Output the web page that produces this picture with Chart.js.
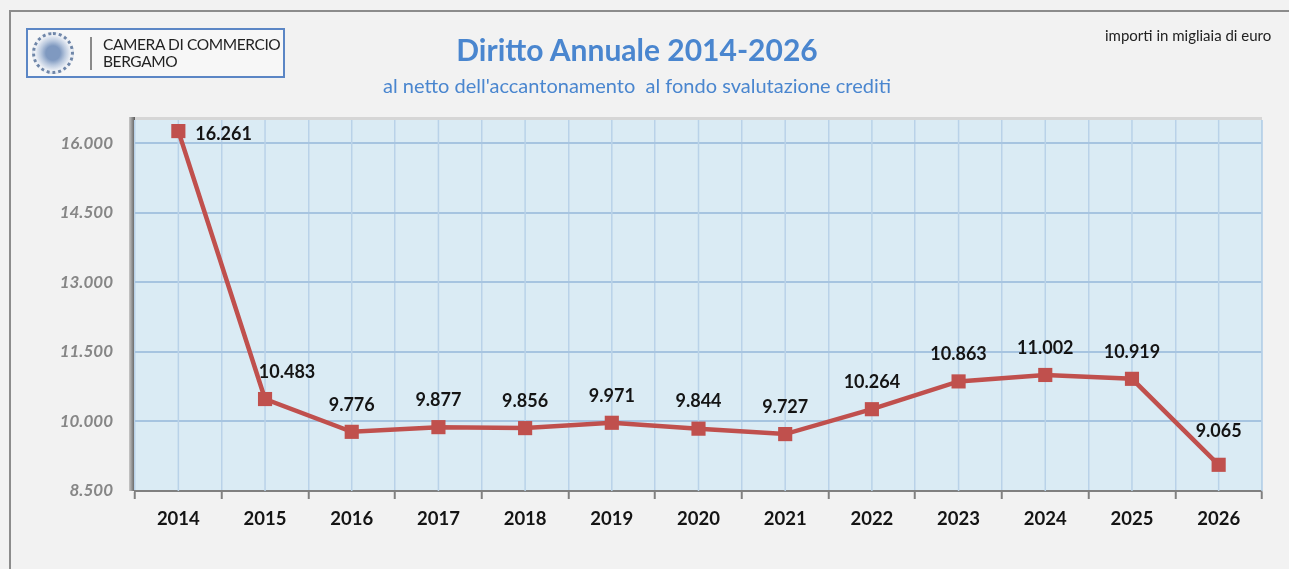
<!DOCTYPE html>
<html>
<head>
<meta charset="utf-8">
<script src="https://cdn.jsdelivr.net/npm/chart.js@4/dist/chart.umd.min.js"></script>
<style>
  html, body { margin: 0; padding: 0; background: #f2f2f2; }
  #wrap { position: relative; width: 1289px; height: 569px; overflow: hidden; font-family: Lato, "Open Sans", sans-serif; }
  #frame { position: absolute; left: 9px; top: 10px; width: 1300px; height: 600px; border-left: 2px solid #8c8c8c; border-top: 2px solid #8c8c8c; box-sizing: border-box; }
  #logo { position: absolute; left: 26px; top: 28px; width: 259px; height: 50px; border: 2px solid #5b86c5; box-sizing: border-box; background: #f7f7f7; }
  #seal { position: absolute; left: 4px; top: 2px; width: 42px; height: 42px; border-radius: 50%; border: 3px dotted #6f86a8; box-sizing: border-box; background: radial-gradient(circle, #7f99c0 0 28%, #b9c8de 48%, #eef1f6 70%); }
  #divider { position: absolute; left: 62px; top: 7px; width: 2px; height: 33px; background: #8a8a8a; }
  #logotext { position: absolute; left: 75px; top: 6px; font-size: 15.5px; line-height: 17px; color: #222; white-space: nowrap; letter-spacing: -0.4px; }
  #title { position: absolute; left: 0; width: 1274px; top: 31px; text-align: center; font-size: 30px; font-weight: bold; color: #4a86cf; }
  #subtitle { position: absolute; left: 0; width: 1274px; top: 73px; text-align: center; font-size: 20px; color: #4a86cf; }
  #unit { position: absolute; left: 1105px; top: 26px; font-size: 15px; color: #222; white-space: nowrap; }
  #chart { position: absolute; left: 0; top: 0; }
</style>
</head>
<body>
<div id="wrap">
  <div id="frame"></div>
  <canvas id="chart" width="1289" height="569"></canvas>
  <div id="logo">
    <div id="seal"></div>
    <div id="divider"></div>
    <div id="logotext">CAMERA DI COMMERCIO<br>BERGAMO</div>
  </div>
  <div id="title">Diritto Annuale 2014-2026</div>
  <div id="subtitle">al netto dell'accantonamento&nbsp; al fondo svalutazione crediti</div>
  <div id="unit">importi in migliaia di euro</div>
</div>
<script>
// dati (migliaia di euro)
const years = ["2014", "2015", "2016", "2017", "2018", "2019", "2020", "2021", "2022", "2023", "2024", "2025", "2026"];
const values = [16261, 10483, 9776, 9877, 9856, 9971, 9844, 9727, 10264, 10863, 11002, 10919, 9065];
const yTicks = [8500, 10000, 11500, 13000, 14500, 16000];

const fmt = v => String(v).replace(/\B(?=(\d{3})+(?!\d))/g, ".");

// sfondo area grafico + ombra asse sinistro
const plotBg = {
  id: "plotBg",
  beforeDraw(chart) {
    const { ctx, chartArea: a } = chart;
    ctx.save();
    ctx.fillStyle = "#daebf4";
    ctx.fillRect(a.left, a.top, a.right - a.left, a.bottom - a.top);
    ctx.fillStyle = "#d6d6d6";
    ctx.fillRect(a.left, a.top - 3, a.right - a.left, 3);
    const g = ctx.createLinearGradient(a.left - 6, 0, a.left, 0);
    g.addColorStop(0, "#c8c8c8");
    g.addColorStop(1, "#5a5a5a");
    ctx.fillStyle = g;
    ctx.fillRect(a.left - 6, a.top - 3, 6, a.bottom - a.top + 3);
    ctx.restore();
  },
  beforeDatasetsDraw(chart) {
    // linee verticali anche al centro delle categorie
    const { ctx, chartArea: a, scales } = chart;
    ctx.save();
    ctx.strokeStyle = "#b9d2e8";
    ctx.lineWidth = 1.5;
    years.forEach((y, i) => {
      const x = scales.x.getPixelForValue(i);
      ctx.beginPath();
      ctx.moveTo(x, a.top);
      ctx.lineTo(x, a.bottom);
      ctx.stroke();
    });
    ctx.beginPath();
    ctx.moveTo(a.right, a.top);
    ctx.lineTo(a.right, a.bottom);
    ctx.stroke();
    ctx.restore();
  }
};

// etichette valori
const valueLabels = {
  id: "valueLabels",
  afterDatasetsDraw(chart) {
    const { ctx } = chart;
    const pts = chart.getDatasetMeta(0).data;
    ctx.save();
    ctx.font = "bold 18px Lato, sans-serif";
    ctx.fillStyle = "#141414";
    ctx.textBaseline = "middle";
    pts.forEach((p, i) => {
      const txt = fmt(values[i]);
      if (i === 0) {
        ctx.textAlign = "left";
        ctx.fillText(txt, p.x + 17, p.y + 3);
      } else {
        ctx.textAlign = "center";
        const dx = i === 1 ? 22 : 0;
        const dy = i === years.length - 1 ? 34 : 27;
        ctx.fillText(txt, p.x + dx, p.y - dy);
      }
    });
    ctx.restore();
  }
};

new Chart(document.getElementById("chart"), {
  type: "line",
  data: {
    labels: years,
    datasets: [{
      data: values,
      borderColor: "#c0504d",
      borderWidth: 4.5,
      pointStyle: "rect",
      pointRadius: 10,
      pointBackgroundColor: "#c0504d",
      pointBorderColor: "#c0504d",
      pointBorderWidth: 0,
      tension: 0
    }]
  },
  options: {
    responsive: false,
    animation: false,
    layout: { padding: { top: 120, right: 27, left: 0, bottom: 0 } },
    plugins: { legend: { display: false }, tooltip: { enabled: false } },
    scales: {
      x: {
        offset: true,
        grid: { offset: true, color: "#b9d2e8", lineWidth: 1.5, tickColor: "#808080", tickLength: 8, tickWidth: 2 },
        border: { color: "#808080", width: 2 },
        ticks: { color: "#141414", font: { family: "Lato", size: 18.5, weight: "bold" }, padding: 9 },
        afterFit(s) { s.height = 78; }
      },
      y: {
        min: 8500,
        max: 16500,
        afterBuildTicks(s) { s.ticks = yTicks.map(v => ({ value: v })); },
        grid: { color: "#a6c4e0", lineWidth: 2, drawTicks: false },
        border: { display: false },
        ticks: {
          color: "#868686",
          font: { family: "Lato", size: 17, style: "italic", weight: "bold" },
          padding: 22,
          callback: v => fmt(v)
        },
        afterFit(s) { s.width = 135; }
      }
    }
  },
  plugins: [plotBg, valueLabels]
});
</script>
</body>
</html>
